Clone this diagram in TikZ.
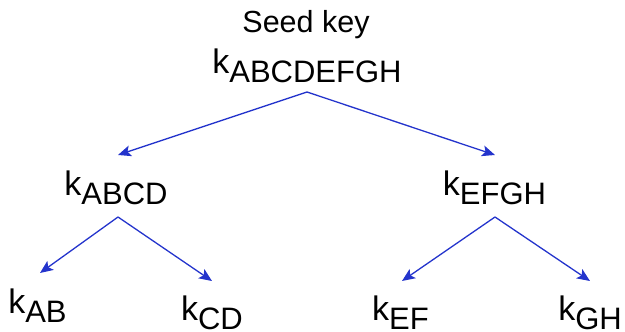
\documentclass[tikz,border=0pt]{standalone}
\usepackage{fontspec}
\setmainfont{Liberation Sans}
\usetikzlibrary{arrows.meta}
\definecolor{linkblue}{RGB}{36,52,204}
% key symbol k with a large, lowered subscript
\newcommand{\keyname}[1]{k\raisebox{-9.5pt}{\fontsize{31}{36}\selectfont #1}}

\begin{document}
\begin{tikzpicture}[x=1pt,y=-1pt,
  keynode/.style={inner sep=0pt, anchor=base, font=\fontsize{34}{40}\selectfont},
  derive/.style={draw=linkblue, line width=1.3pt,
    -{Stealth[length=13pt,width=11pt,inset=3pt]}}]
\useasboundingbox (0,0) rectangle (625,332);

% labels
\node[keynode, font=\fontsize{30.5}{36}\selectfont] (seed) at (306,32) {Seed key};
\node[keynode] (root) at (307,73) {\keyname{ABCDEFGH}};
\node[keynode] (abcd) at (116,195) {\keyname{ABCD}};
\node[keynode] (efgh) at (494.5,195) {\keyname{EFGH}};
\node[keynode] (ab) at (37.5,313) {\keyname{AB}};
\node[keynode] (cd) at (212,320) {\keyname{CD}};
\node[keynode] (ef) at (400.5,320) {\keyname{EF}};
\node[keynode] (gh) at (590,320) {\keyname{GH}};

% branch points and arrow ends
\coordinate (root-fork) at (307,92);
\coordinate (abcd-in) at (118,155);
\coordinate (efgh-in) at (495,155);
\coordinate (abcd-fork) at (118,217);
\coordinate (ab-in) at (40,273);
\coordinate (cd-in) at (212,281);
\coordinate (efgh-fork) at (495,217);
\coordinate (ef-in) at (402,281);
\coordinate (gh-in) at (590,281);

% derivations
\draw[derive] (root-fork) -- (abcd-in);
\draw[derive] (root-fork) -- (efgh-in);
\draw[derive] (abcd-fork) -- (ab-in);
\draw[derive] (abcd-fork) -- (cd-in);
\draw[derive] (efgh-fork) -- (ef-in);
\draw[derive] (efgh-fork) -- (gh-in);
\end{tikzpicture}
\end{document}
